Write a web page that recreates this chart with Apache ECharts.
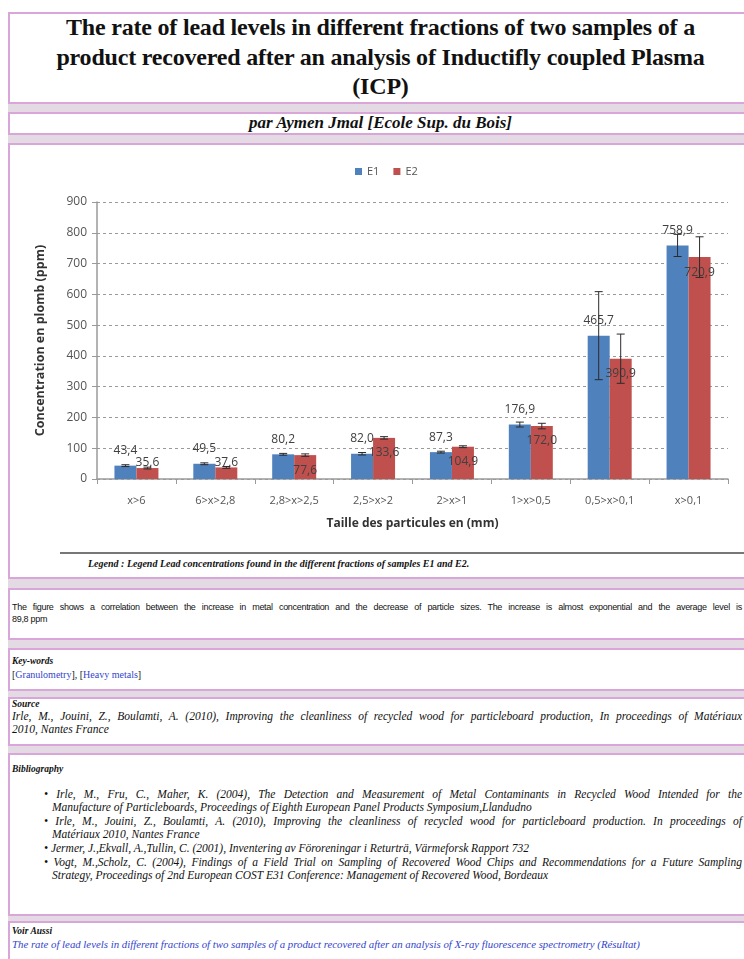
<!DOCTYPE html>
<html>
<head>
<meta charset="utf-8">
<title>Lead levels ICP</title>
<script src="https://cdn.jsdelivr.net/npm/echarts@6/dist/echarts.min.js"></script>
<style>
  body { margin: 0; width: 744px; height: 959px; overflow: hidden; background: #fff; position: relative; font-family: "Liberation Serif", serif; color: #111; }
  .band { position: absolute; left: 8px; top: 100px; width: 760px; height: 870px; background: #e3dae3; }
  .box { position: absolute; left: 8px; width: 780px; background: #fff; border: 2px solid #d8a6d8; box-sizing: border-box; }
  .abs { position: absolute; white-space: nowrap; }
  .title { left: 8px; width: 745px; top: 13px; text-align: center; font-weight: bold; font-size: 24px; line-height: 29.5px; white-space: normal; letter-spacing: -0.2px; }
  .author { left: 8px; width: 745px; top: 113px; text-align: center; font-weight: bold; font-style: italic; font-size: 17px; }
  .head { font-weight: bold; font-style: italic; font-size: 9.5px; }
  .it { font-style: italic; font-size: 11.5px; line-height: 13px; }
  .full { text-align: justify; text-align-last: justify; }
  a { color: #3344cc; text-decoration: none; }
  #chart { position: absolute; left: 14px; top: 146px; width: 730px; height: 405px; }
</style>
</head>
<body>
<div class="band"></div>

<div class="box" style="top:12px;height:92px;"></div>
<div class="abs title">The rate of lead levels in different fractions of two samples of a<br>product recovered after an analysis of Inductifly coupled Plasma<br>(ICP)</div>

<div class="box" style="top:112px;height:23px;"></div>
<div class="abs author">par Aymen Jmal [Ecole Sup. du Bois]</div>

<div class="box" style="top:143px;height:436px;"></div>
<div id="chart"></div>
<div class="abs" style="left:60px;top:552px;width:700px;height:2px;background:#777;"></div>
<div class="abs" style="left:88px;top:558px;font-weight:bold;font-style:italic;font-size:10px;">Legend : Legend Lead concentrations found in the different fractions of samples E1 and E2.</div>

<div class="box" style="top:588px;height:52px;"></div>
<div class="abs" style="left:12px;top:601px;width:730px;font-family:'Liberation Sans',sans-serif;font-size:9px;line-height:12px;letter-spacing:-0.3px;">
  <div class="full">The figure shows a correlation between the increase in metal concentration and the decrease of particle sizes. The increase is almost exponential and the average level is</div>
  <div>89,8 ppm</div>
</div>

<div class="box" style="top:648px;height:43px;"></div>
<div class="abs head" style="left:12px;top:656px;">Key-words</div>
<div class="abs" style="left:12px;top:669px;font-size:10px;">[<a>Granulometry</a>], [<a>Heavy metals</a>]</div>

<div class="box" style="top:697px;height:49px;"></div>
<div class="abs head" style="left:12px;top:699px;">Source</div>
<div class="abs it" style="left:12px;top:710px;width:730px;">
  <div class="full">Irle, M., Jouini, Z., Boulamti, A. (2010), Improving the cleanliness of recycled wood for particleboard production, In proceedings of Matériaux</div>
  <div>2010, Nantes France</div>
</div>

<div class="box" style="top:753px;height:163px;"></div>
<div class="abs head" style="left:12px;top:764px;">Bibliography</div>
<div class="abs it" style="left:44px;top:788px;width:698px;">
  <div class="full">&bull; Irle, M., Fru, C., Maher, K. (2004), The Detection and Measurement of Metal Contaminants in Recycled Wood Intended for the</div>
  <div style="padding-left:8px;">Manufacture of Particleboards, Proceedings of Eighth European Panel Products Symposium,Llandudno</div>
  <div class="full" style="margin-top:1px;">&bull; Irle, M., Jouini, Z., Boulamti, A. (2010), Improving the cleanliness of recycled wood for particleboard production. In proceedings of</div>
  <div style="padding-left:8px;">Matériaux 2010, Nantes France</div>
  <div style="margin-top:1px;">&bull; Jermer, J.,Ekvall, A.,Tullin, C. (2001), Inventering av Föroreningar i Returträ, Värmeforsk Rapport 732</div>
  <div class="full" style="margin-top:1px;">&bull; Vogt, M.,Scholz, C. (2004), Findings of a Field Trial on Sampling of Recovered Wood Chips and Recommendations for a Future Sampling</div>
  <div style="padding-left:8px;">Strategy, Proceedings of 2nd European COST E31 Conference: Management of Recovered Wood, Bordeaux</div>
</div>

<div class="box" style="top:921px;height:60px;"></div>
<div class="abs head" style="left:12px;top:926px;">Voir Aussi</div>
<div class="abs it" style="left:12px;top:938px;font-size:10.8px;"><a>The rate of lead levels in different fractions of two samples of a product recovered after an analysis of X-ray fluorescence spectrometry (Résultat)</a></div>

<script>
// data
const categories = ['x>6', '6>x>2,8', '2,8>x>2,5', '2,5>x>2', '2>x>1', '1>x>0,5', '0,5>x>0,1', 'x>0,1']
const e1Values = [43.4, 49.5, 80.2, 82.0, 87.3, 176.9, 465.7, 758.9]
const e2Values = [35.6, 37.6, 77.6, 133.6, 104.9, 172.0, 390.9, 720.9]
const e1Errors = [3, 3, 3, 4, 3, 8, 143, 36]
const e2Errors = [3, 3, 4, 4, 3, 9, 80, 66]

const BAR_W = 22
const fmt = p => p.value.toFixed(1).replace('.', ',')

function errorBar(offset) {
  return function (params, api) {
    const i = api.value(0)
    const hi = api.coord([i, api.value(1) + api.value(2)])
    const lo = api.coord([i, api.value(1) - api.value(2)])
    const x = hi[0] + offset
    const style = {stroke: '#2b2b2b', lineWidth: 1}
    return {
      type: 'group',
      children: [
        {type: 'line', shape: {x1: x, y1: hi[1], x2: x, y2: lo[1]}, style: style},
        {type: 'line', shape: {x1: x - 4, y1: hi[1], x2: x + 4, y2: hi[1]}, style: style},
        {type: 'line', shape: {x1: x - 4, y1: lo[1], x2: x + 4, y2: lo[1]}, style: style}
      ]
    }
  }
}

const chart = echarts.init(document.getElementById('chart'))
const labelFont = {color: '#404040', fontSize: 12, fontFamily: 'Open Sans'}

chart.setOption({
  animation: false,
  textStyle: {fontFamily: 'Open Sans'},
  legend: {
    data: ['E1', 'E2'],
    left: 336,
    top: 15,
    itemWidth: 7,
    itemHeight: 7,
    itemGap: 14,
    icon: 'rect',
    textStyle: {color: '#555', fontSize: 11}
  },
  grid: {left: 83, right: 16, top: 56, bottom: 72},
  xAxis: {
    type: 'category',
    data: categories,
    name: 'Taille des particules en (mm)',
    nameLocation: 'middle',
    nameGap: 39,
    nameTextStyle: {fontWeight: 'bold', fontSize: 12, color: '#333'},
    axisLine: {lineStyle: {color: '#9a9a9a', width: 1.5}},
    axisTick: {show: true, length: 5, lineStyle: {color: '#9a9a9a'}},
    axisLabel: {color: '#555', fontSize: 11, margin: 16}
  },
  yAxis: {
    type: 'value',
    min: 0,
    max: 900,
    interval: 100,
    name: 'Concentration en plomb (ppm)',
    nameLocation: 'middle',
    nameGap: 50,
    nameTextStyle: {fontWeight: 'bold', fontSize: 12.5, color: '#333'},
    axisLine: {show: true, lineStyle: {color: '#9a9a9a', width: 1.5}},
    axisTick: {show: true, length: 5, lineStyle: {color: '#9a9a9a'}},
    axisLabel: {color: '#555', fontSize: 12, margin: 10},
    splitLine: {lineStyle: {color: '#9a9a9a', type: [3, 3]}}
  },
  series: [
    {
      name: 'E1',
      type: 'bar',
      barWidth: BAR_W,
      barGap: '0%',
      itemStyle: {color: '#4f81bd'},
      label: Object.assign({show: true, position: 'top', distance: 9, formatter: fmt}, labelFont),
      data: e1Values
    },
    {
      name: 'E2',
      type: 'bar',
      barWidth: BAR_W,
      itemStyle: {color: '#c0504d'},
      label: Object.assign({show: true, position: 'insideTop', distance: 9, formatter: fmt}, labelFont),
      data: e2Values.map(v => v < 60 ? {value: v, label: {position: 'top', distance: -1}} : v)
    },
    {
      type: 'custom',
      renderItem: errorBar(-BAR_W / 2),
      encode: {x: 0, y: 1},
      z: 5,
      silent: true,
      data: e1Values.map((v, i) => [i, v, e1Errors[i]])
    },
    {
      type: 'custom',
      renderItem: errorBar(BAR_W / 2),
      encode: {x: 0, y: 1},
      z: 5,
      silent: true,
      data: e2Values.map((v, i) => [i, v, e2Errors[i]])
    }
  ]
})
</script>
</body>
</html>
